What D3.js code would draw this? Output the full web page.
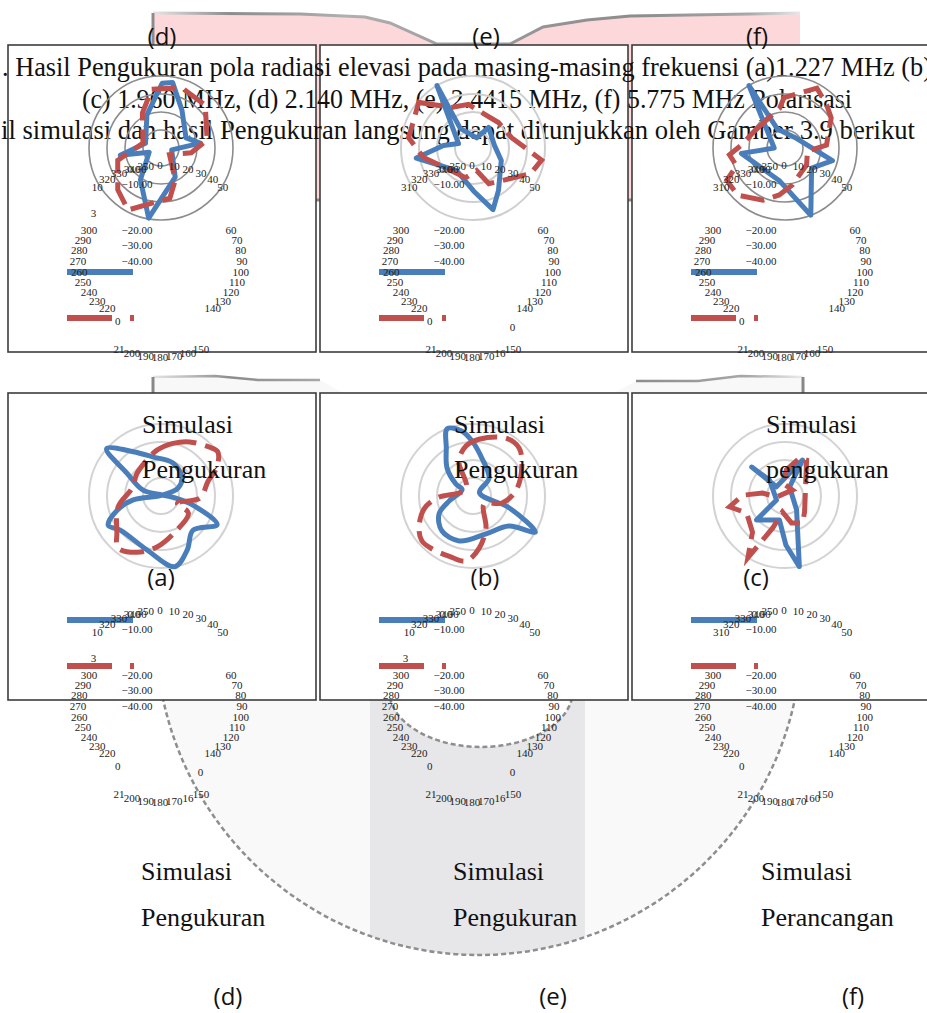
<!DOCTYPE html>
<html>
<head>
<meta charset="utf-8">
<script src="https://cdn.jsdelivr.net/npm/d3@7"></script>
<style>
  body { margin: 0; background: #fff; }
  svg { display: block; }
</style>
</head>
<body>
<div id="chart-area"></div>
<script>
// ---- data (angle in degrees, level in dB) ----
const angleTicks = d3.range(0, 360, 10);
const radialTicks = [-40, -30, -20, -10, 0];
const ringTicks = [-30, -20, -10, 0];

// top row: (d) 2.140 MHz, (e) 2.4415 MHz, (f) 5.775 MHz
const dBlue = [[337,-20],[1,-4],[10,-3],[29,-16],[68,-25],[83,-18],[100,-34],[154,-22],[190,-0.5],[213,-19],[250,-33],[260,-17],[287,-31]];
const dRed  = [[351,-7],[19,-4.6],[46,-5.8],[80,-14],[99,-23],[128,-34],[156,-20.5],[170,-11.7],[208,-1],[226,-6.6],[254,-15],[285,-29.6],[332,-18]];
const eBlue = [[330,0],[327,-27],[20,-34],[37,-25.6],[83,-28],[114,-22.8],[149,-12.5],[162,-4],[179,-16],[216,-24.5],[260,-8],[275,-23.5],[287,-31.6]];
const eRed  = [[310,-0.6],[332,-14.5],[354,-15.6],[17,-20],[45,-20],[75,-17.8],[100,-1.3],[114,-5],[156,-18.3],[171,-27.3],[194,-23],[235,-21],[259,-12],[279,-3.8]];
const fBlue = [[330,0],[338,-28.6],[43,-32],[105,-12.7],[127,-21.5],[159,0],[189,-21.4],[263,-15.6],[270,-34]];
const fRed  = [[299,-20.6],[352,-17.8],[359,-12],[28,-2.3],[44,-6.7],[57,-9.4],[86,-16.9],[98,-27.4],[128,-24.8],[169,-19],[187,-13.7],[203,-8.5],[225,-2.9],[241,-3],[250,-11.3],[263,-8.9],[274,-15.8]];

// bottom row: (a) 1.227 MHz, (b), (c) 1.960 MHz
const aBlue = [[311,0],[328,-11],[348,-17.8],[20,-20.5],[48,-24.4],[65,-29.5],[63,-39],[262,-24.4],[252,-14.4],[241,-6.5],[230,-10.5],[194.5,-9],[169,0],[154,-6.7],[137,-14],[117,-5],[106,-21.6],[98,-32],[60,-39],[288,-29.5],[304,-17]];
const aRed  = [[28,-6],[13,-10],[355,-14.4],[339,-18.5],[314,-21.6],[285,-23.3],[256,-15.5],[230,-8],[219.6,-2.5],[203,-6],[184.5,-11.6],[159,-18.5],[122,-22],[114,-30],[93,-18.3],[73,-12.8],[62.6,-5],[52,0],[45,-1.7]];
const bBlue = [[339,0],[350,-3.3],[359,-9.4],[13,-18.3],[42,-26.7],[63,-36],[108,-19],[120,0],[130,-14],[161,-17.8],[197,-13.9],[221.5,-14],[242,-18.6],[258,-26.4],[300,-33],[305,-28.4],[317,-18.9],[331,-9.4]];
const bRed  = [[29.6,-3],[6,-8.3],[352,-12],[338,-19],[315,-34.5],[267,-20],[255,-11.8],[239,-5],[228.6,-2.2],[218,-2.8],[202,-4],[186,-3.7],[173,-11],[158,-20.8],[126,-32.4],[103.6,-23.4],[83,-16],[60,-8.7],[43.8,-3]];
const cBlue = [[311,-15.5],[317,-33],[26,-17.8],[27,-34.4],[140,-30],[168.5,0],[179,-12.8],[193,-26.3],[230,-19.3],[245,-34.8],[316,-27.6]];
const cRed  = [[31,-16.7],[129,-26],[147,-22],[166.5,-24.6],[189,-31],[201,-21],[211,0],[222,-13],[246,-16.7],[259,-8.6],[271,-16.4],[277.6,-27.4],[263,-35.2],[51,-34.7],[349,-32.7],[3,-25.5],[21,-17.4]];

const captionLines = [
  ". Hasil Pengukuran pola radiasi elevasi pada masing-masing frekuensi (a)1.227 MHz (b)",
  "(c) 1.960 MHz, (d) 2.140 MHz, (e) 2.4415 MHz, (f) 5.775 MHz Polarisasi",
  "il simulasi dan hasil Pengukuran langsung dapat ditunjukkan oleh Gamber  3.9 berikut"
];
const topLetters = ["(d)", "(e)", "(f)"];
const midLetters = ["(a)", "(b)", "(c)"];
const bottomLetters = ["(d)", "(e)", "(f)"];
const bottomFirst = ["Simulasi", "Simulasi", "Simulasi"];
const bottomSecond = ["Pengukuran", "Pengukuran", "Perancangan"];
const panelSecond = ["Pengukuran", "Pengukuran", "pengukuran"];

const BLUE = "#4a7ebb", RED = "#c0504d";
const SERIF = "'Liberation Serif', 'Times New Roman', serif";
const SANS = "'Open Sans', 'Liberation Sans', sans-serif";

const W = 927, H = 1013;
const svg = d3.select("#chart-area").append("svg")
    .attr("width", W).attr("height", H);

svg.append("rect").attr("width", W).attr("height", H).attr("fill", "#fff");

const defs = svg.append("defs");

// ---- background shapes ----
// pink block behind the top row
const topEdge = [[153,13],[300,14],[365,17],[390,23],[437,44],[510,44],[543,27],[587,20],[630,16],[800,13]];
svg.append("path")
    .attr("d", d3.line()(topEdge.concat([[800,200],[153,200]])) + "Z")
    .attr("fill", "#fdd8db");
let edgeGrad = defs.append("linearGradient").attr("id", "edge")
    .attr("gradientUnits", "userSpaceOnUse").attr("x1", 153).attr("x2", 800).attr("y1", 0).attr("y2", 0);
[[0, "#e4e4e4"], [0.12, "#8c8c8c"], [0.3, "#b0b0b0"], [0.5, "#9a9a9a"], [0.75, "#8c8c8c"], [0.92, "#a8a8a8"], [1, "#e8e8e8"]]
    .forEach(s => edgeGrad.append("stop").attr("offset", s[0]).attr("stop-color", s[1]));
svg.append("path")
    .attr("d", d3.line()(topEdge))
    .attr("fill", "none").attr("stroke", "url(#edge)").attr("stroke-width", 3);
svg.append("line").attr("x1", 153).attr("x2", 153).attr("y1", 13).attr("y2", 46)
    .attr("stroke", "#8c8c8c").attr("stroke-width", 3);
svg.append("line").attr("x1", 153).attr("x2", 800).attr("y1", 200).attr("y2", 200)
    .attr("stroke", "#8c8c8c").attr("stroke-width", 3);

// pale pieces between the two rows
const midLeft = [[153,394],[153,377],[215,376],[258,380],[320,380],[345,394]];
const midRight = [[612,394],[636,381],[698,381],[740,376],[803,377],[803,394]];
[midLeft, midRight].forEach(pts => {
    svg.append("path").attr("d", d3.line()(pts) + "Z").attr("fill", "#f8f8f8");
    svg.append("path").attr("d", d3.line()(pts.slice(1, pts.length - 1)))
        .attr("fill", "none").attr("stroke", "url(#edge)").attr("stroke-width", 2.5);
});
svg.append("line").attr("x1", 153).attr("x2", 153).attr("y1", 377).attr("y2", 394)
    .attr("stroke", "#888").attr("stroke-width", 3);
svg.append("line").attr("x1", 803).attr("x2", 803).attr("y1", 377).attr("y2", 394)
    .attr("stroke", "#888").attr("stroke-width", 3);

// big half disc under the bottom row
defs.append("clipPath").attr("id", "below").append("rect")
    .attr("x", 0).attr("y", 700).attr("width", W).attr("height", H - 700);
defs.append("clipPath").attr("id", "disc").append("circle")
    .attr("cx", 479).attr("cy", 632).attr("r", 323);
const under = svg.append("g").attr("clip-path", "url(#below)");
under.append("circle").attr("cx", 479).attr("cy", 632).attr("r", 323)
    .attr("fill", "#f9f9f9");
under.append("g").attr("clip-path", "url(#disc)")
    .append("rect").attr("x", 370).attr("y", 690).attr("width", 215).attr("height", 330)
    .attr("fill", "#e7e7e9");
under.append("circle").attr("cx", 479).attr("cy", 632).attr("r", 323)
    .attr("fill", "none").attr("stroke", "#8e8e8e").attr("stroke-width", 2.5)
    .attr("stroke-dasharray", "5 3");
under.append("ellipse").attr("cx", 481).attr("cy", 690).attr("rx", 92).attr("ry", 57)
    .attr("fill", "#fff").attr("stroke", "#8e8e8e").attr("stroke-width", 2.5)
    .attr("stroke-dasharray", "5 3");

// ---- panels ----
const cols = [8, 320, 632];
const rows = [45, 393];
const panels = [
    {x: cols[0], y: rows[0], blue: dBlue, red: dRed, ring: "#8c8c8c", ringW: 1.6, labelDy: 216, split310: true,  cut160: false, smooth: false},
    {x: cols[1], y: rows[0], blue: eBlue, red: eRed, ring: "#cfcfcf", ringW: 2,   labelDy: 216, split310: false, cut160: true,  smooth: false},
    {x: cols[2], y: rows[0], blue: fBlue, red: fRed, ring: "#8c8c8c", ringW: 1.6, labelDy: 216, split310: false, cut160: false, smooth: false},
    {x: cols[0], y: rows[1], blue: aBlue, red: aRed, ring: "#d3d3d3", ringW: 2,   labelDy: 313, split310: true,  cut160: true,  smooth: true},
    {x: cols[1], y: rows[1], blue: bBlue, red: bRed, ring: "#d3d3d3", ringW: 2,   labelDy: 313, split310: true,  cut160: true,  smooth: true},
    {x: cols[2], y: rows[1], blue: cBlue, red: cRed, ring: "#d3d3d3", ringW: 2,   labelDy: 313, split310: false, cut160: false, smooth: false}
];

const boxLayer = svg.append("g");
const captionLayer = svg.append("g");
const plotLayer = svg.append("g");
const labelLayer = svg.append("g");
const textLayer = svg.append("g");

panels.forEach(p => {
    boxLayer.append("rect")
        .attr("x", p.x).attr("y", p.y).attr("width", p.x > 600 ? 310 : 308).attr("height", 307)
        .attr("fill", "#fff").attr("stroke", "#3c3c3c").attr("stroke-width", 1.6);
});

// caption of the top row, running over the boxes
const captionX = [[2, 930], [82, 770], [1, 914]];
const captionY = [76, 108, 139];
captionLines.forEach((t, i) => {
    captionLayer.append("text")
        .attr("x", captionX[i][0]).attr("y", captionY[i])
        .attr("textLength", captionX[i][1]).attr("lengthAdjust", "spacingAndGlyphs")
        .attr("font-family", SERIF).attr("font-size", 28).attr("fill", "#111")
        .text(t);
});

class RadarPanel {
    constructor(_cfg) {
        this.cfg = _cfg;
        this.initVis();
    }

    initVis() {
        let vis = this, p = vis.cfg;
        vis.cx = p.x + 153;
        vis.cy = p.y + 103;
        vis.r = d3.scaleLinear().domain([-40, 0]).range([0, 72]).clamp(true);

        vis.g = plotLayer.append("g")
            .attr("transform", "translate(" + vis.cx + "," + vis.cy + ")");

        vis.g.selectAll(".ring")
            .data(ringTicks)
            .enter().append("circle")
            .attr("class", "ring")
            .attr("r", d => vis.r(d))
            .attr("fill", "none")
            .attr("stroke", p.ring)
            .attr("stroke-width", p.ringW);

        vis.line = d3.lineRadial()
            .angle(d => d[0] * Math.PI / 180)
            .radius(d => vis.r(d[1]))
            .curve(p.smooth ? d3.curveCatmullRomClosed.alpha(0.5) : d3.curveLinearClosed);

        vis.g.append("path")
            .datum(p.blue)
            .attr("d", vis.line)
            .attr("fill", "none")
            .attr("stroke", BLUE)
            .attr("stroke-width", 5)
            .attr("stroke-linejoin", "round");

        vis.g.append("path")
            .datum(p.red)
            .attr("d", vis.line)
            .attr("fill", "none")
            .attr("stroke", RED)
            .attr("stroke-width", 5)
            .attr("stroke-dasharray", "24 9");

        // legend swatches
        plotLayer.append("rect").attr("x", p.x + 59).attr("y", p.y + 224)
            .attr("width", 66).attr("height", 6).attr("fill", BLUE);
        plotLayer.append("rect").attr("x", p.x + 59).attr("y", p.y + 270)
            .attr("width", 45).attr("height", 6).attr("fill", RED);
        plotLayer.append("rect").attr("x", p.x + 122).attr("y", p.y + 270)
            .attr("width", 4).attr("height", 6).attr("fill", RED);

        vis.drawLabels();
    }

    // angle labels sit on a displaced ellipse below the plot
    labelPos(theta, raw, k) {
        let vis = this, p = vis.cfg;
        const a = theta * Math.PI / 180, kk = k || 1;
        const lx = p.x + 152, ly = p.y + p.labelDy;
        let x = lx + 82 * kk * Math.sin(a), y = ly - 62 * kk * Math.cos(a);
        if (!raw) {
            if (Math.cos(a) >= Math.cos(50 * Math.PI / 180) - 1e-6) y -= 34;
            else if (Math.cos(a) <= Math.cos(150 * Math.PI / 180) + 1e-6) y += 34;
        }
        return [x, y];
    }

    drawLabels() {
        let vis = this, p = vis.cfg;
        const lab = (x, y, t, anchor) => labelLayer.append("text")
            .attr("x", x).attr("y", y).attr("dy", "0.35em")
            .attr("text-anchor", anchor || "middle")
            .attr("font-family", SERIF).attr("font-size", 11).attr("fill", "#222")
            .text(t);

        angleTicks.forEach(t => {
            const pos = vis.labelPos(t);
            let txt = String(t);
            if (t === 210) txt = "21";
            if (t === 160 && p.cut160) txt = "16";
            if (t === 310 && p.split310) {
                txt = "10";
                const rp = vis.labelPos(t, true);
                lab(rp[0] - 1, rp[1] - 8, "3", "end");
            }
            lab(pos[0], pos[1], txt);
        });
        // detached zeros
        const z1 = vis.labelPos(208, true, 1.1);
        lab(z1[0], z1[1], "0");
        if (p.cut160) {
            const z2 = vis.labelPos(155, true, 1.17);
            lab(z2[0], z2[1], "0");
        }

        const fmt = d3.format(".2f");
        radialTicks.forEach(v => {
            const y = p.y + p.labelDy - 62 * (v + 40) / 40 - (v >= -10 ? 30 : 0);
            lab(p.x + 129, y, fmt(v));
        });
    }
}

panels.forEach(p => new RadarPanel(p));

// ---- letters and captions ----
const letterDx = [154, 166, 125];
topLetters.forEach((t, i) => {
    textLayer.append("text").attr("x", cols[i] + letterDx[i]).attr("y", 45)
        .attr("text-anchor", "middle").attr("font-family", SANS).attr("font-size", 24)
        .attr("fill", "#111").text(t);
});
midLetters.forEach((t, i) => {
    textLayer.append("text").attr("x", cols[i] + letterDx[i] - 1).attr("y", 586)
        .attr("text-anchor", "middle").attr("font-family", SANS).attr("font-size", 24)
        .attr("fill", "#111").text(t);
});
panelSecond.forEach((t, i) => {
    textLayer.append("text").attr("x", cols[i] + 134).attr("y", 433)
        .attr("font-family", SERIF).attr("font-size", 26).attr("fill", "#111").text("Simulasi");
    textLayer.append("text").attr("x", cols[i] + 134).attr("y", 478)
        .attr("font-family", SERIF).attr("font-size", 26).attr("fill", "#111").text(t);
});

const bottomX = [141, 453, 761];
const bottomLetterX = [228, 553, 853];
bottomFirst.forEach((t, i) => {
    textLayer.append("text").attr("x", bottomX[i]).attr("y", 880)
        .attr("font-family", SERIF).attr("font-size", 26).attr("fill", "#111").text(t);
    textLayer.append("text").attr("x", bottomX[i]).attr("y", 926)
        .attr("font-family", SERIF).attr("font-size", 26).attr("fill", "#111").text(bottomSecond[i]);
    textLayer.append("text").attr("x", bottomLetterX[i]).attr("y", 1005)
        .attr("text-anchor", "middle").attr("font-family", SANS).attr("font-size", 24)
        .attr("fill", "#111").text(bottomLetters[i]);
});
</script>
</body>
</html>
